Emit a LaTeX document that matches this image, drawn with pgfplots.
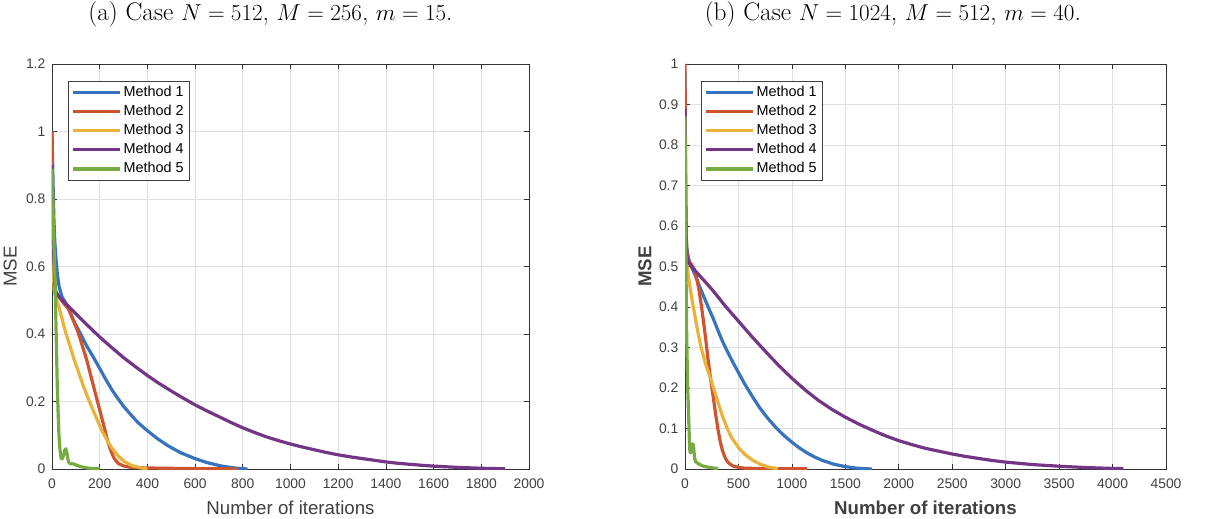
\documentclass[border=0pt]{standalone}
\usepackage{fontspec}
\usepackage{pgfplots}
\pgfplotsset{compat=1.18}
\newfontfamily\arial{Liberation Sans}
\definecolor{mA}{rgb}{0.22,0.45,0.75}
\definecolor{mB}{rgb}{0.81,0.33,0.19}
\definecolor{mC}{rgb}{0.91,0.70,0.23}
\definecolor{mD}{rgb}{0.45,0.21,0.53}
\definecolor{mE}{rgb}{0.47,0.67,0.26}
\pgfplotsset{
  mstyle/.style={
    scale only axis, height=303.75pt,
    anchor=south west,
    axis line style={black!80, line width=0.6pt},
    tick align=inside, major tick length=3.75pt,
    tick style={black!80, line width=0.5pt},
    grid=major, major grid style={black!12, line width=0.5pt},
    ticklabel style={font=\arial\fontsize{10.4}{12}\selectfont, text=black!75},
    /pgf/number format/assume math mode=true,
    /pgf/number format/1000 sep={},
    xticklabel style={yshift=-4pt},
    yticklabel style={xshift=-1.5pt},
    label style={text=black!75},
    x label style={at={(axis description cs:0.5,-0.0955)}, anchor=center},
    legend style={at={(0.0335,0.957)}, anchor=north west, draw=black!75, line width=0.5pt, fill=white,
      font=\arial\fontsize{10.8}{12}\selectfont, inner xsep=2.5pt, inner ysep=1.2pt, row sep=0.3pt,
      nodes={inner sep=1.5pt, text height=8pt, text depth=3pt}},
    legend cell align=left,
    legend image code/.code={\draw[##1, line width=2.4pt] (0pt,0pt) -- (35pt,0pt);},
    every axis plot/.append style={line width=2.4pt, line join=round},
    title style={anchor=center, font=\fontsize{19}{23}\selectfont},
  }
}
\begin{document}
\begin{tikzpicture}
\path[use as bounding box] (0,0) rectangle (912pt,388.5pt);
\begin{axis}[mstyle, width=357.75pt, at={(39pt,36.75pt)},
  xmin=0, xmax=2000, ymin=0, ymax=1.2,
  xtick={0,200,...,2000}, ytick={0,0.2,0.4,0.6,0.8,1,1.2},
  xlabel={Number of iterations}, ylabel={MSE},
  label style={font=\arial\fontsize{14}{16}\selectfont},
  y label style={at={(axis description cs:-0.0875,0.5)}, anchor=center},
  title={(a) Case $N=512$, $M=256$, $m=15$.},
  title style={at={(axis description cs:0.458,1.1037)}},
]
\addplot[mA] coordinates {(0,1.0)(2,0.93)(5,0.83)(8,0.74)(12,0.67)(17,0.62)(22,0.58)(30,0.54)(42,0.51)(55,0.495)(68,0.48)(90,0.44)(120,0.40)(145,0.365)(173,0.332)(200,0.298)(225,0.266)(250,0.236)(277,0.208)(300,0.186)(329,0.162)(360,0.138)(399,0.114)(440,0.091)(486,0.069)(540,0.048)(599,0.031)(650,0.019)(709,0.009)(760,0.0035)(800,0.001)(820,0.0)};
\addlegendentry{Method 1}
\addplot[mB] coordinates {(0,1.0)(2,0.85)(4,0.72)(6,0.62)(9,0.56)(15,0.525)(29,0.51)(50,0.49)(68,0.475)(90,0.44)(107,0.41)(125,0.37)(146,0.322)(165,0.27)(186,0.213)(200,0.175)(215,0.135)(230,0.092)(245,0.057)(260,0.032)(277,0.017)(300,0.009)(329,0.005)(400,0.003)(500,0.002)(600,0.0012)(700,0.0006)(780,0.0003)};
\addlegendentry{Method 2}
\addplot[mC] coordinates {(0,0.9)(3,0.7)(6,0.58)(9,0.53)(15,0.51)(29,0.48)(42,0.445)(55,0.41)(75,0.365)(94,0.322)(113,0.283)(133,0.243)(153,0.207)(173,0.173)(190,0.145)(212,0.11)(235,0.08)(251,0.062)(275,0.04)(303,0.022)(335,0.01)(369,0.004)(400,0.0005)};
\addlegendentry{Method 3}
\addplot[mD] coordinates {(0,0.9)(4,0.75)(8,0.62)(12,0.55)(16,0.525)(30,0.51)(50,0.495)(100,0.46)(150,0.425)(200,0.391)(250,0.36)(300,0.33)(350,0.303)(400,0.277)(450,0.253)(500,0.231)(550,0.21)(600,0.19)(650,0.172)(700,0.155)(750,0.138)(800,0.122)(850,0.108)(900,0.095)(950,0.084)(1000,0.074)(1050,0.065)(1100,0.057)(1150,0.049)(1200,0.042)(1250,0.036)(1300,0.031)(1350,0.026)(1400,0.021)(1450,0.017)(1500,0.014)(1550,0.011)(1600,0.0085)(1700,0.0048)(1800,0.0022)(1900,0.0006)};
\addlegendentry{Method 4}
\addplot[mE] coordinates {(0,0.89)(5,0.75)(9,0.65)(13,0.55)(16,0.45)(19,0.35)(22,0.25)(26,0.16)(29,0.104)(33,0.06)(38,0.032)(43,0.03)(48,0.04)(53,0.055)(58,0.06)(62,0.05)(66,0.032)(70,0.02)(75,0.016)(90,0.015)(100,0.012)(120,0.007)(140,0.004)(160,0.002)(200,0.0005)};
\addlegendentry{Method 5}
\end{axis}
\begin{axis}[mstyle, width=360.75pt, at={(513.75pt,36.75pt)},
  xmin=0, xmax=4500, ymin=0, ymax=1,
  xtick={0,500,...,4500}, ytick={0,0.1,...,1.0},
  yticklabel style={/pgf/number format/fixed, /pgf/number format/precision=1},
  xlabel={Number of iterations}, ylabel={MSE},
  label style={font=\arial\bfseries\fontsize{14}{16}\selectfont},
  y label style={at={(axis description cs:-0.0832,0.5)}, anchor=center},
  title={(b) Case $N=1024$, $M=512$, $m=40$.},
  title style={at={(axis description cs:0.432,1.1037)}},
]
\addplot[mA] coordinates {(0,0.98)(3,0.8)(6,0.65)(10,0.58)(15,0.55)(29,0.525)(50,0.505)(88,0.483)(130,0.455)(175,0.426)(220,0.398)(263,0.372)(307,0.343)(351,0.315)(395,0.291)(439,0.268)(500,0.238)(556,0.211)(630,0.179)(702,0.15)(775,0.125)(848,0.103)(925,0.083)(1000,0.066)(1070,0.052)(1140,0.04)(1210,0.03)(1287,0.021)(1390,0.012)(1497,0.006)(1600,0.0022)(1700,0.0006)(1750,0.0)};
\addlegendentry{Method 1}
\addplot[mB] coordinates {(0,1.0)(3,0.85)(6,0.7)(10,0.6)(15,0.54)(29,0.517)(60,0.505)(88,0.492)(110,0.47)(132,0.44)(155,0.40)(175,0.36)(195,0.318)(215,0.272)(240,0.222)(263,0.18)(285,0.138)(307,0.1)(330,0.067)(351,0.045)(373,0.029)(395,0.019)(420,0.012)(453,0.007)(500,0.004)(556,0.002)(700,0.0012)(850,0.001)(1000,0.0007)(1140,0.0005)};
\addlegendentry{Method 2}
\addplot[mC] coordinates {(0,0.85)(3,0.7)(6,0.6)(10,0.54)(15,0.508)(35,0.47)(58,0.43)(88,0.385)(117,0.343)(150,0.30)(190,0.262)(240,0.222)(263,0.203)(305,0.168)(351,0.13)(395,0.1)(439,0.076)(500,0.053)(556,0.037)(630,0.022)(702,0.012)(780,0.005)(848,0.0015)(870,0.0005)};
\addlegendentry{Method 3}
\addplot[mD] coordinates {(0,0.89)(3,0.75)(6,0.65)(10,0.58)(16,0.53)(29,0.512)(60,0.5)(117,0.483)(190,0.462)(263,0.44)(375,0.403)(500,0.365)(625,0.327)(750,0.291)(875,0.256)(1000,0.224)(1125,0.195)(1250,0.169)(1375,0.147)(1500,0.128)(1625,0.111)(1750,0.096)(1875,0.082)(2000,0.07)(2125,0.06)(2250,0.051)(2375,0.044)(2500,0.037)(2625,0.031)(2750,0.026)(2875,0.021)(3000,0.017)(3250,0.011)(3500,0.0068)(3750,0.0036)(4000,0.0014)(4100,0.0008)};
\addlegendentry{Method 4}
\addplot[mE] coordinates {(0,0.87)(3,0.75)(6,0.62)(9,0.5)(12,0.42)(15,0.343)(20,0.27)(25,0.2)(29,0.17)(35,0.12)(40,0.08)(44,0.05)(48,0.04)(55,0.04)(62,0.055)(70,0.062)(78,0.06)(85,0.04)(92,0.025)(100,0.018)(115,0.015)(132,0.012)(160,0.008)(205,0.005)(250,0.003)(310,0.001)};
\addlegendentry{Method 5}
\end{axis}
\end{tikzpicture}
\end{document}
